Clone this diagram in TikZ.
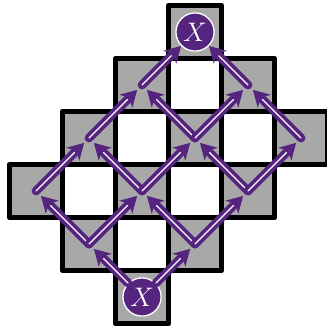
\documentclass[tikz,border=0pt]{standalone}
\usepackage{tikz}
\usetikzlibrary{
  arrows.meta
}
\definecolor{latpurple}{RGB}{84,36,127}
\definecolor{latgray}{RGB}{168,168,168}
\tikzset{
  grayCell/.style={
    fill=latgray,
    draw=black,
    line width=0.11cm,
    line join=round
  },
  whiteCell/.style={
    fill=white,
    draw=black,
    line width=0.11cm,
    line join=round
  },
  xNode/.style={
    circle,
    fill=latpurple,
    draw=white,
    line width=0.7pt,
    minimum size=0.72cm,
    inner sep=0pt,
    text=white,
    font=\fontsize{14}{16}\selectfont
  },
  latEdge/.style={
    draw=latpurple,
    line width=0.165cm,
    line cap=round,
    -{Stealth[length=0.3cm,width=0.34cm,inset=0.09cm]},
    shorten >=#1,
    postaction={
      draw=white,
      line width=0.65pt,
      -,
      shorten >={#1+0.26cm}
    }
  },
  latEdge/.default=0.13cm
}

\begin{document}
\begin{tikzpicture}
  \useasboundingbox (-0.18,-6.085) rectangle (5.99,0.104);

  % board
  \foreach \c/\r in {3/0,2/1,4/1,1/2,3/2,5/2,0/3,2/3,4/3,1/4,3/4,2/5}
    \draw[grayCell] (\c,-\r) rectangle ++(1,-1);
  \foreach \c/\r in {3/1,2/2,4/2,1/3,3/3,2/4}
    \draw[whiteCell] (\c,-\r) rectangle ++(1,-1);

  % lattice points
  \node[xNode] (xbot) at (2.5,-5.5) {$X$};
  \node[xNode] (xtop) at (3.5,-0.5) {$X$};
  \coordinate (p10) at (1.5,-4.5);
  \coordinate (p01) at (3.5,-4.5);
  \coordinate (p20) at (0.5,-3.5);
  \coordinate (p11) at (2.5,-3.5);
  \coordinate (p02) at (4.5,-3.5);
  \coordinate (p21) at (1.5,-2.5);
  \coordinate (p12) at (3.5,-2.5);
  \coordinate (p03) at (5.5,-2.5);
  \coordinate (p22) at (2.5,-1.5);
  \coordinate (p13) at (4.5,-1.5);

  \draw[latEdge] (xbot) -- (p10);
  \draw[latEdge] (xbot) -- (p01);
  \draw[latEdge] (p10) -- (p20);
  \draw[latEdge] (p10) -- (p11);
  \draw[latEdge] (p01) -- (p11);
  \draw[latEdge] (p01) -- (p02);
  \draw[latEdge] (p20) -- (p21);
  \draw[latEdge] (p11) -- (p21);
  \draw[latEdge] (p11) -- (p12);
  \draw[latEdge] (p02) -- (p12);
  \draw[latEdge] (p02) -- (p03);
  \draw[latEdge] (p21) -- (p22);
  \draw[latEdge] (p12) -- (p22);
  \draw[latEdge] (p12) -- (p13);
  \draw[latEdge] (p03) -- (p13);
  \draw[latEdge=0cm] (p22) -- (xtop);
  \draw[latEdge=0cm] (p13) -- (xtop);
\end{tikzpicture}
\end{document}
